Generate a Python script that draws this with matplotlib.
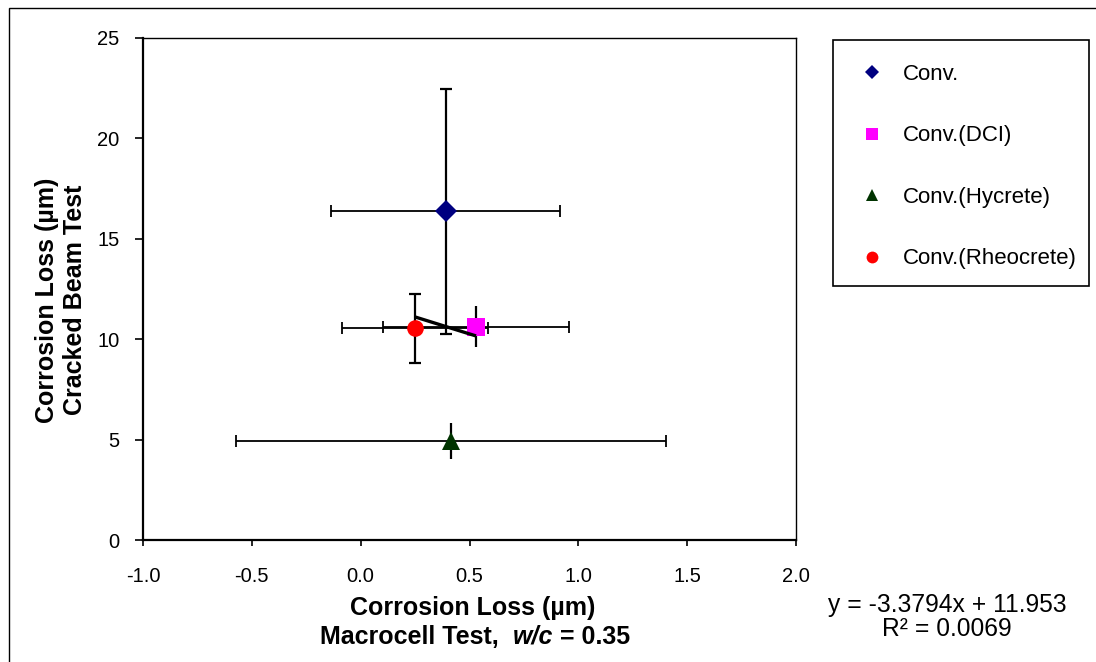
import matplotlib
matplotlib.use("Agg")
import matplotlib.pyplot as plt
from matplotlib.lines import Line2D
from matplotlib.patches import Rectangle

plt.rcParams['font.family'] = ['Liberation Sans', 'DejaVu Sans']

# ---- data ----
series = ["Conv.", "Conv.(DCI)", "Conv.(Hycrete)", "Conv.(Rheocrete)"]
x_vals = [0.390, 0.530, 0.415, 0.250]
y_vals = [16.36, 10.63, 4.93, 10.54]
x_err = [0.526, 0.428, 0.990, 0.336]
y_err = [6.1, 1.03, 0.9, 1.72]
y_caps = [True, False, False, True]
markers = ["D", "s", "^", "o"]
colors = ["#000080", "#FF00FF", "#003300", "#FF0000"]
msizes = [11, 12.5, 12.5, 12]
leg_msizes = [7, 8.5, 9, 8.5]
slope, intercept = -3.3794, 11.953
eq_text = "y = -3.3794x + 11.953\nR² = 0.0069"
x_ticks = [-1.0, -0.5, 0.0, 0.5, 1.0, 1.5, 2.0]
y_ticks = [0, 5, 10, 15, 20, 25]

W, H = 1096, 662
fig = plt.figure(figsize=(W / 100, H / 100), dpi=100)
ax = fig.add_axes([143 / W, 1 - 540 / H, (796 - 143) / W, (540 - 38) / H])

for i in range(len(series)):
    ax.errorbar(x_vals[i], y_vals[i], xerr=x_err[i], fmt='none', ecolor='black',
                elinewidth=1.3, capsize=4, capthick=1.3, zorder=2)
    ax.errorbar(x_vals[i], y_vals[i], yerr=y_err[i], fmt='none', ecolor='black',
                elinewidth=1.6, capsize=4 if y_caps[i] else 0, capthick=1.6, zorder=2)
    ax.plot(x_vals[i], y_vals[i], linestyle='none', marker=markers[i], color=colors[i],
            markersize=msizes[i], markeredgewidth=0, zorder=3)

xmin, xmax = min(x_vals), max(x_vals)
ax.plot([xmin, xmax], [slope * xmin + intercept, slope * xmax + intercept],
        color='black', lw=2.4, zorder=4, solid_capstyle='butt')

ax.set_xlim(-1.0, 2.0)
ax.set_ylim(0, 25)
ax.set_xticks(x_ticks)
ax.set_xticklabels([f"{v:.1f}" for v in x_ticks])
ax.set_yticks(y_ticks)
ax.tick_params(axis='x', direction='out', length=4.5, width=1.2, labelsize=14.5, pad=15)
ax.tick_params(axis='y', direction='out', length=5.8, width=1.2, labelsize=14.5, pad=11)
for s in ['left', 'bottom']:
    ax.spines[s].set_linewidth(1.6)
for s in ['top', 'right']:
    ax.spines[s].set_linewidth(1.0)

ax.set_ylabel("Corrosion Loss (µm)\nCracked Beam Test", fontsize=18, fontweight='bold',
              multialignment='center')
ax.yaxis.set_label_coords(-0.086, 0.478)

# x label (two lines, second with italic part)
fig.text(473 / W, 1 - 608 / H, "Corrosion Loss (µm)", fontsize=18, fontweight='bold',
         ha='center', va='center')
fig.canvas.draw()
r = fig.canvas.get_renderer()
parts = [("Macrocell Test,  ", 'normal'), ("w/c", 'italic'), (" = 0.35", 'normal')]
texts = [fig.text(0, 1 - 637 / H, p, fontsize=18, fontweight='bold', fontstyle=st,
                  ha='left', va='center') for p, st in parts]
widths = [t.get_window_extent(r).width for t in texts]
x0 = 475 - sum(widths) / 2
for t, w in zip(texts, widths):
    t.set_x(x0 / W)
    x0 += w

fig.text(947 / W, 1 - 617 / H, eq_text, fontsize=17.7, ha='center', va='center',
         multialignment='center', linespacing=1.02)

# legend
handles = [Line2D([], [], linestyle='none', marker=markers[i], color=colors[i],
                  markersize=leg_msizes[i], markeredgewidth=0) for i in range(len(series))]
fig.legend(handles, series, loc='upper left', bbox_to_anchor=(854 / W, 1 - 64 / H),
           frameon=False, fontsize=16, labelspacing=1.82, handlelength=1.6,
           handletextpad=0.6, borderpad=0, borderaxespad=0)
fig.patches.append(Rectangle((833 / W, 1 - 286 / H), (1089 - 833) / W, (286 - 40) / H,
                             transform=fig.transFigure, fill=False, edgecolor='black', lw=1.2))
# outer chart border
fig.patches.append(Rectangle((9 / W, -0.1), 1.2, 1 - 8 / H + 0.1,
                             transform=fig.transFigure, fill=False, edgecolor='black', lw=1.0))

fig.savefig("out.png", dpi=100)
